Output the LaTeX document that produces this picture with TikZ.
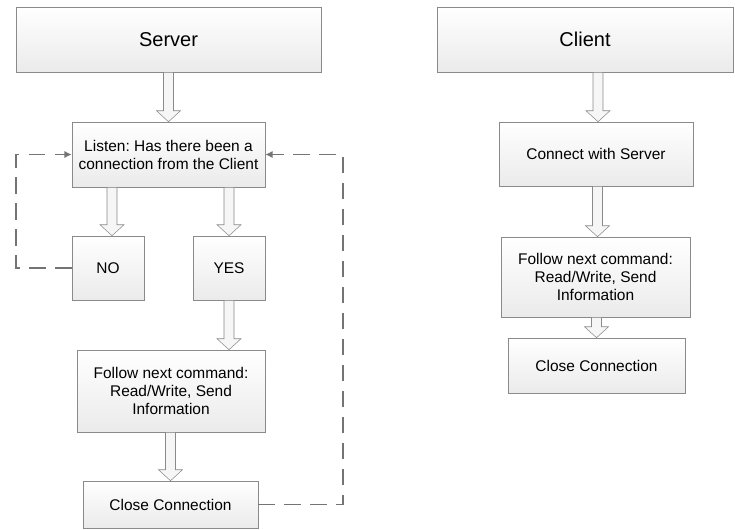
\documentclass[tikz,border=0pt]{standalone}
\usepackage{fontspec}
\setmainfont{Liberation Sans}
\frenchspacing
\usetikzlibrary{arrows.meta,calc}

\definecolor{boxline}{HTML}{8A8A8A}
\definecolor{loopline}{HTML}{747474}

\tikzset{
  stepbox/.style={draw=boxline, top color=white, bottom color=gray!16,
    align=center, inner sep=2pt, font=\fontsize{11.6}{13.5}\selectfont},
  titlebox/.style={stepbox, font=\fontsize{15}{18}\selectfont},
  % hollow block arrow, drawn straight down from the start point
  bigarrow/.style={draw=boxline, fill=gray!7, line join=miter,
    to path={let \p1=(\tikztostart), \p2=(\tikztotarget) in
      (\x1-3.75pt,\y1) -- (\x1-3.75pt,\y2+8.25pt) -- (\x1-9pt,\y2+8.25pt)
      -- (\x1,\y2) -- (\x1+9pt,\y2+8.25pt) -- (\x1+3.75pt,\y2+8.25pt)
      -- (\x1+3.75pt,\y1) -- cycle}},
  loop/.style={draw=loopline, line width=1.3pt, dash pattern=on 12.5pt off 7pt,
    -{Latex[length=5.5pt,width=5.5pt]}}
}

\begin{document}
\begin{tikzpicture}[x=0.75pt, y=-0.75pt]
  \useasboundingbox (0,0) rectangle (735,529);

  % Server side
  \node[titlebox, minimum width=305*0.75pt, minimum height=65*0.75pt] (server) at (168.5,39.5) {Server};
  \node[stepbox, minimum width=193*0.75pt, minimum height=65*0.75pt] (listen) at (168.5,154.5)
    {Listen: Has there been a\\connection from the Client};
  \node[stepbox, minimum width=72*0.75pt, minimum height=64*0.75pt] (no) at (108,268) {NO};
  \node[stepbox, minimum width=72*0.75pt, minimum height=64*0.75pt] (yes) at (229,268) {YES};
  \node[stepbox, minimum width=188*0.75pt, minimum height=82*0.75pt] (follow) at (171,391)
    {Follow next command:\\Read/Write, Send\\Information};
  \node[stepbox, minimum width=175*0.75pt, minimum height=47*0.75pt] (close) at (170.5,504.5)
    {Close Connection};

  % Client side
  \node[titlebox, minimum width=296*0.75pt, minimum height=65*0.75pt] (client) at (585,39.5) {Client};
  \node[stepbox, minimum width=194*0.75pt, minimum height=64*0.75pt] (connect) at (596,154)
    {Connect with Server};
  \node[stepbox, minimum width=189*0.75pt, minimum height=80*0.75pt] (cfollow) at (595.5,277)
    {Follow next command:\\Read/Write, Send\\Information};
  \node[stepbox, minimum width=177*0.75pt, minimum height=55*0.75pt] (cclose) at (596.5,365.5)
    {Close Connection};

  % Block arrows
  \draw[bigarrow] (server.south) to (listen.north);
  \draw[bigarrow] ([xshift=3pt]no.north |- listen.south) to ([xshift=3pt]no.north);
  \draw[bigarrow] (yes.north |- listen.south) to (yes.north);
  \draw[bigarrow] (yes.south) to (yes.south |- follow.north);
  \draw[bigarrow] (close.north |- follow.south) to (close.north);
  \draw[bigarrow] ([xshift=1.5pt]connect.north |- client.south) to ([xshift=1.5pt]connect.north);
  \draw[bigarrow] ([xshift=1.5pt]cfollow.north |- connect.south) to ([xshift=1.5pt]cfollow.north);
  \draw[bigarrow] (cclose.north |- cfollow.south) to (cclose.north);

  % Dashed loops back to Listen
  \coordinate (noleft) at (16,268);
  \coordinate (closeright) at (343,504.5);
  \draw[loop] (no.west) -- (noleft) |- (listen.west);
  \draw[loop] (close.east) -- (closeright) |- (listen.east);
\end{tikzpicture}
\end{document}
